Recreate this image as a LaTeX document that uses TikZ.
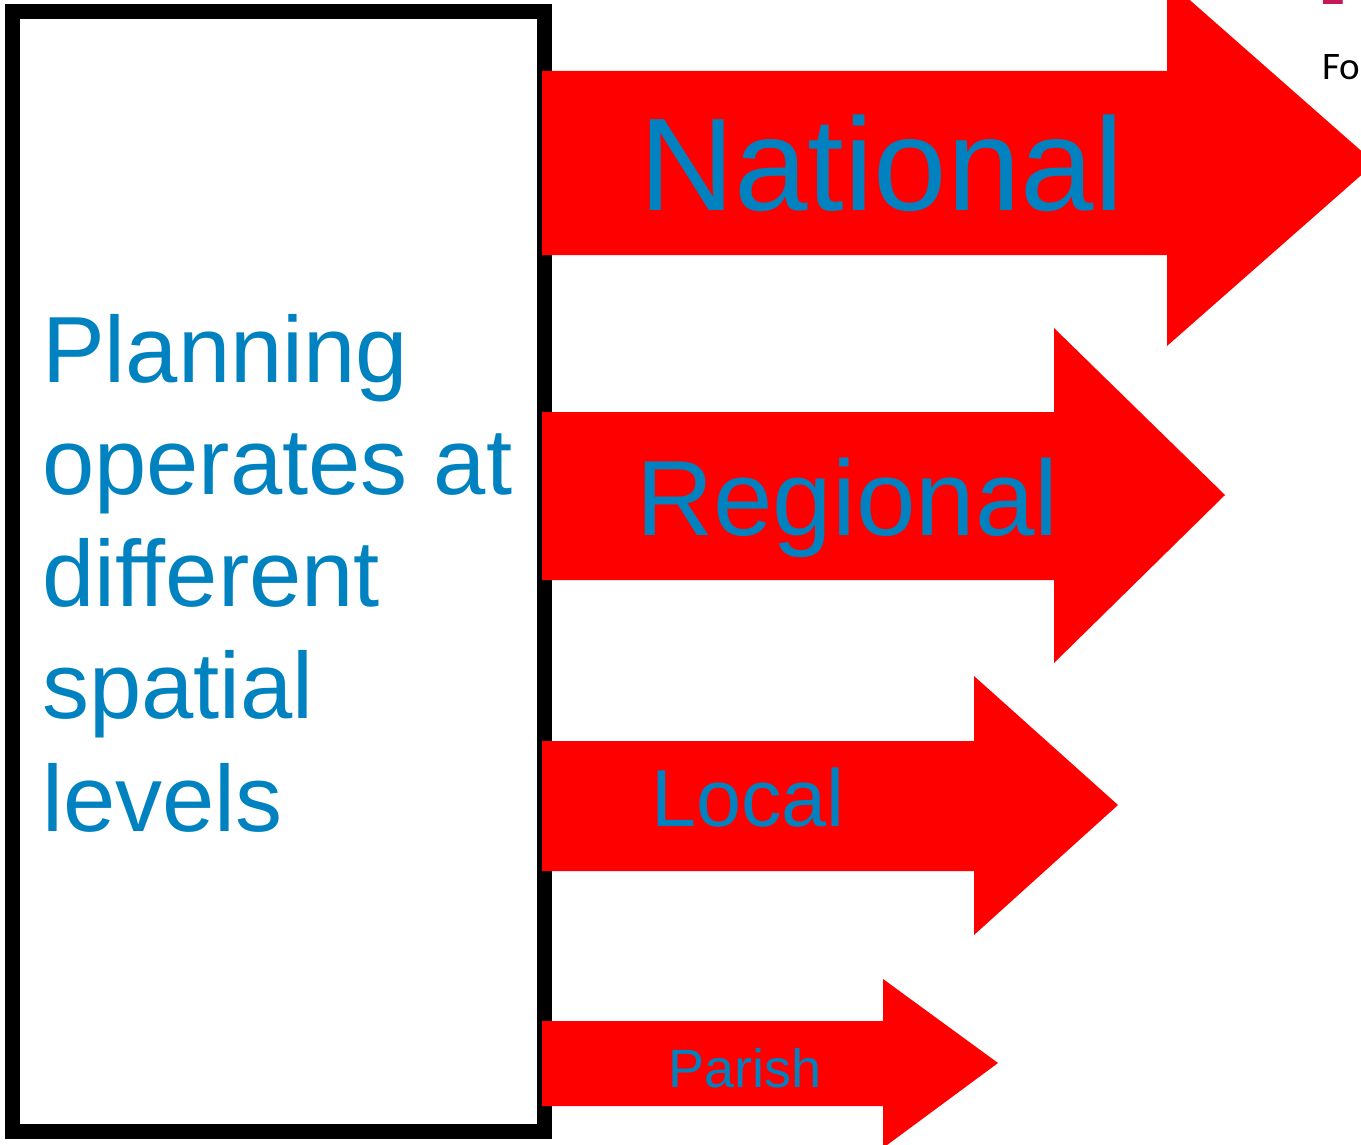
\documentclass[tikz,border=0pt]{standalone}
\usepackage{fontspec}
\setmainfont{Liberation Sans}
\newfontfamily\carlito{Carlito}
\definecolor{txtblue}{RGB}{0,130,192}
\definecolor{arrred}{RGB}{255,0,0}
\definecolor{hdrmag}{RGB}{196,24,90}
\tikzset{
  lvlarrow/.style={fill=arrred, draw=none},
  bluetext/.style={text=txtblue, inner sep=0pt, anchor=base west},
  framebox/.style={draw=black, line width=15pt}
}
\begin{document}
\begin{tikzpicture}[x=1pt,y=-1pt]
\useasboundingbox (0,0) rectangle (1361,1145);
% frame
\draw[framebox] (12,12) rectangle (544,1131);
% arrows
\fill[lvlarrow] (542,71) -- (1167,71) -- (1167,-20) -- (1375,163) -- (1167,346) -- (1167,255) -- (542,255) -- cycle;
\fill[lvlarrow] (542,412) -- (1054,412) -- (1054,328) -- (1225,495) -- (1054,663) -- (1054,580) -- (542,580) -- cycle;
\fill[lvlarrow] (542,741) -- (974,741) -- (974,676) -- (1118,805) -- (974,935) -- (974,871) -- (542,871) -- cycle;
\fill[lvlarrow] (542,1021) -- (883,1021) -- (883,979) -- (998,1063) -- (883,1148) -- (883,1106) -- (542,1106) -- cycle;
% arrow labels
\node[bluetext, font=\fontsize{132}{132}\selectfont] (national) at (639,211) {National};
\node[bluetext, font=\fontsize{107}{107}\selectfont] (regional) at (636,535) {Regional};
\node[bluetext, font=\fontsize{81}{81}\selectfont] (local) at (651,826) {Local};
\node[bluetext, font=\fontsize{54}{54}\selectfont] (parish) at (668,1087) {Parish};
% box text
\begin{scope}[every node/.style={bluetext, font=\fontsize{94}{94}\selectfont}]
\node (l1) at (42,382) {Planning};
\node (l2) at (42,494) {operates at};
\node (l3) at (42,606) {different};
\node (l4) at (42,718) {spatial};
\node (l5) at (42,831) {levels};
\end{scope}
% cropped header text
\node[inner sep=0pt, anchor=base west, font=\carlito\fontsize{39}{39}\selectfont] (hdrfor) at (1322,80) {For};
\node[inner sep=0pt, anchor=base west, text=hdrmag, font=\carlito\bfseries\fontsize{56}{56}\selectfont] (hdrl) at (1320,5) {L};
\end{tikzpicture}
\end{document}
